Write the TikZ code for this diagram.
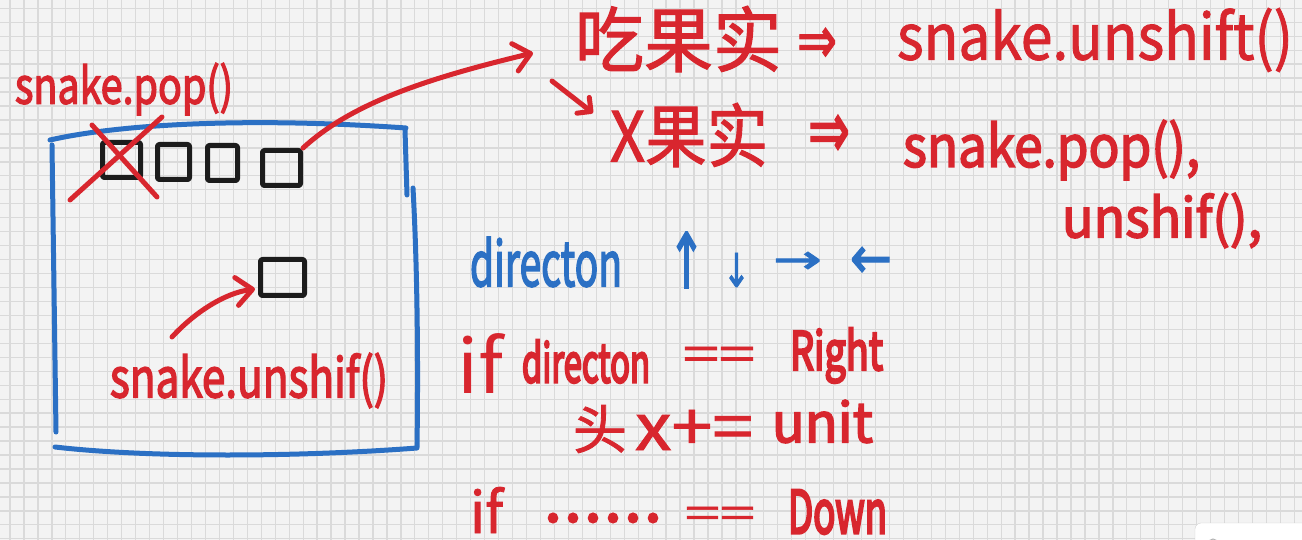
\documentclass[tikz,border=0pt]{standalone}
\usepackage{fontspec}
\setmainfont{Noto Sans CJK SC}
\newfontfamily\hm{Noto Sans CJK SC}[FakeBold=1.5]
\newfontfamily\hh{Noto Sans CJK SC}[FakeBold=3]
\newfontfamily\hx{Noto Sans CJK SC}[FakeBold=5]
\newfontfamily\symf{DejaVu Sans}[FakeBold=2]
\usetikzlibrary{arrows.meta,calc}
\definecolor{pen}{HTML}{D8262E}
\definecolor{bpen}{HTML}{2B70C4}
\definecolor{ink}{HTML}{1C1C1C}
\definecolor{paper}{HTML}{F3F3F3}
\definecolor{gridc}{HTML}{DADADA}
\newcommand\fitt[3]{\resizebox*{#1pt}{#2pt}{#3}}
\begin{document}
\begin{tikzpicture}[x=1pt,y=-1pt,
  txt/.style={inner sep=0pt,outer sep=0pt,anchor=center},
  redtxt/.style={txt,text=pen},
  bluetxt/.style={txt,text=bpen},
  cell/.style={draw=ink,line width=5pt,rounded corners=2pt,inner sep=0pt,line join=round},
  redline/.style={draw=pen,line width=5pt,line cap=round,line join=round},
  blueline/.style={draw=bpen,line width=5pt,line cap=round,line join=round},
  bigtip/.style={-{Straight Barb[length=16pt,width=28pt,round]}},
  smalltip/.style={-{Straight Barb[length=10pt,width=20pt,round]}}
]
\useasboundingbox (0,0) rectangle (1302,540);
\clip (0,0) rectangle (1302,540);
% paper and grid
\fill[paper] (0,0) rectangle (1302,540);
\foreach \i in {0,...,92} \draw[gridc,line width=1.3pt] ({10+\i*13.96},0) -- ++(0,540);
\foreach \j in {0,...,38} \draw[gridc,line width=1.3pt] (0,{8.3+\j*13.96}) -- ++(1302,0);

% blue board
\draw[blueline] (50,140) .. controls (120,124) and (250,117) .. (406,128);
\draw[blueline] (405,130) -- (407,195);
\draw[blueline] (413,188) .. controls (418,280) and (418,380) .. (417,447);
\draw[blueline] (55,447) .. controls (150,458) and (300,457) .. (417,448);
\draw[blueline] (52,145) -- (56,432);

% snake cells
\node[cell,minimum width=38pt,minimum height=35pt] (sq1) at (121.5,160) {};
\node[cell,minimum width=32pt,minimum height=35pt] (sq2) at (173.5,162) {};
\node[cell,minimum width=30pt,minimum height=35pt] (sq3) at (222.5,163) {};
\node[cell,minimum width=38pt,minimum height=35pt] (sq4) at (281.5,168) {};
\node[cell,minimum width=44pt,minimum height=36pt] (sqN) at (282.5,277.5) {};

% cross over the tail
\draw[redline] (70,200) -- (162,117);
\draw[redline] (92,125) -- (157,197);

% texts
\node[redtxt] (popA) at (124,89) {\fitt{218}{52}{\hh snake.pop()}};
\node[redtxt] (fruit) at (678.5,39) {\fitt{207}{66}{\hm 吃果实}};
\node[redtxt] (imp1) at (817,45.5) {\fitt{40}{35}{\symf ⇒}};
\node[redtxt] (unsh) at (1095,40) {\fitt{396}{64}{\hm snake.unshift()}};
\node[redtxt] (nofruit) at (689,135) {\fitt{158}{64}{\hm X果实}};
\node[redtxt] (imp2) at (829,136.5) {\fitt{42}{43}{\symf ⇒}};
\node[redtxt] (popB) at (1051.5,150) {\fitt{297}{60}{\hh snake.pop(),}};
\node[redtxt] (unshC) at (1162,220.5) {\fitt{200}{55}{\hh unshif(),}};

\node[bluetxt] (dir) at (546,262) {\fitt{152}{50}{\hh directon}};
\node[bluetxt] (up) at (686.5,260) {\fitt{37}{56}{\symf ↑}};
\node[bluetxt] (down) at (736.5,270) {\fitt{27}{34}{\symf ↓}};
\node[bluetxt] (right) at (797.5,262.5) {\fitt{49}{21}{\symf →}};
\node[bluetxt] (left) at (871,262.5) {\fitt{42}{31}{\symf ←}};

\node[redtxt] (if1) at (480,363) {\fitt{46}{60}{if}};
\node[redtxt] (dir2) at (586,361.5) {\fitt{128}{43}{\hx directon}};
\node[redtxt] (eq1) at (719,358.5) {\fitt{72}{23}{\hm ==}};
\node[redtxt] (rightw) at (836.5,355.5) {\fitt{93}{55}{\hx Right}};

\node[redtxt] (tou) at (600,429) {\fitt{54}{48}{\hm 头}};
\node[redtxt] (xpe) at (694,430) {\fitt{118}{40}{\hm x+=}};
\node[redtxt] (unit) at (822.5,421.5) {\fitt{101}{43}{\hh unit}};

\node[redtxt] (if2) at (486.5,510) {\fitt{33}{46}{\hm if}};
\node[redtxt] (dots) at (603,518) {\fitt{120}{10}{\hm ......}};
\node[redtxt] (eq2) at (720,517) {\fitt{70}{20}{\hm ==}};
\node[redtxt] (downw) at (837.5,512) {\fitt{99}{44}{\hx Down}};

\node[redtxt] (unshB) at (249,380.5) {\fitt{278}{55}{\hh snake.unshif()}};

% connectors
\draw[redline,bigtip] (sq4.north east) .. controls (350,105) and (420,80) .. ($(fruit.west)+(-42,14)$);
\draw[redline,smalltip] ($(fruit.south west)+(-23,9)$) -- ($(nofruit.west)+(-17,-22)$);
\draw[redline,bigtip] ($(unshB.north)+(-77,-16)$) .. controls (195,312) and (225,293) .. ($(sqN.south west)+(-3,-9)$);

% viewer overlay in the corner
\fill[white,draw=gray!35,rounded corners=6pt] (1195,523) rectangle (1340,590);
\draw[gray!60,line width=1pt] (1213,544) circle (5);
\end{tikzpicture}
\end{document}
